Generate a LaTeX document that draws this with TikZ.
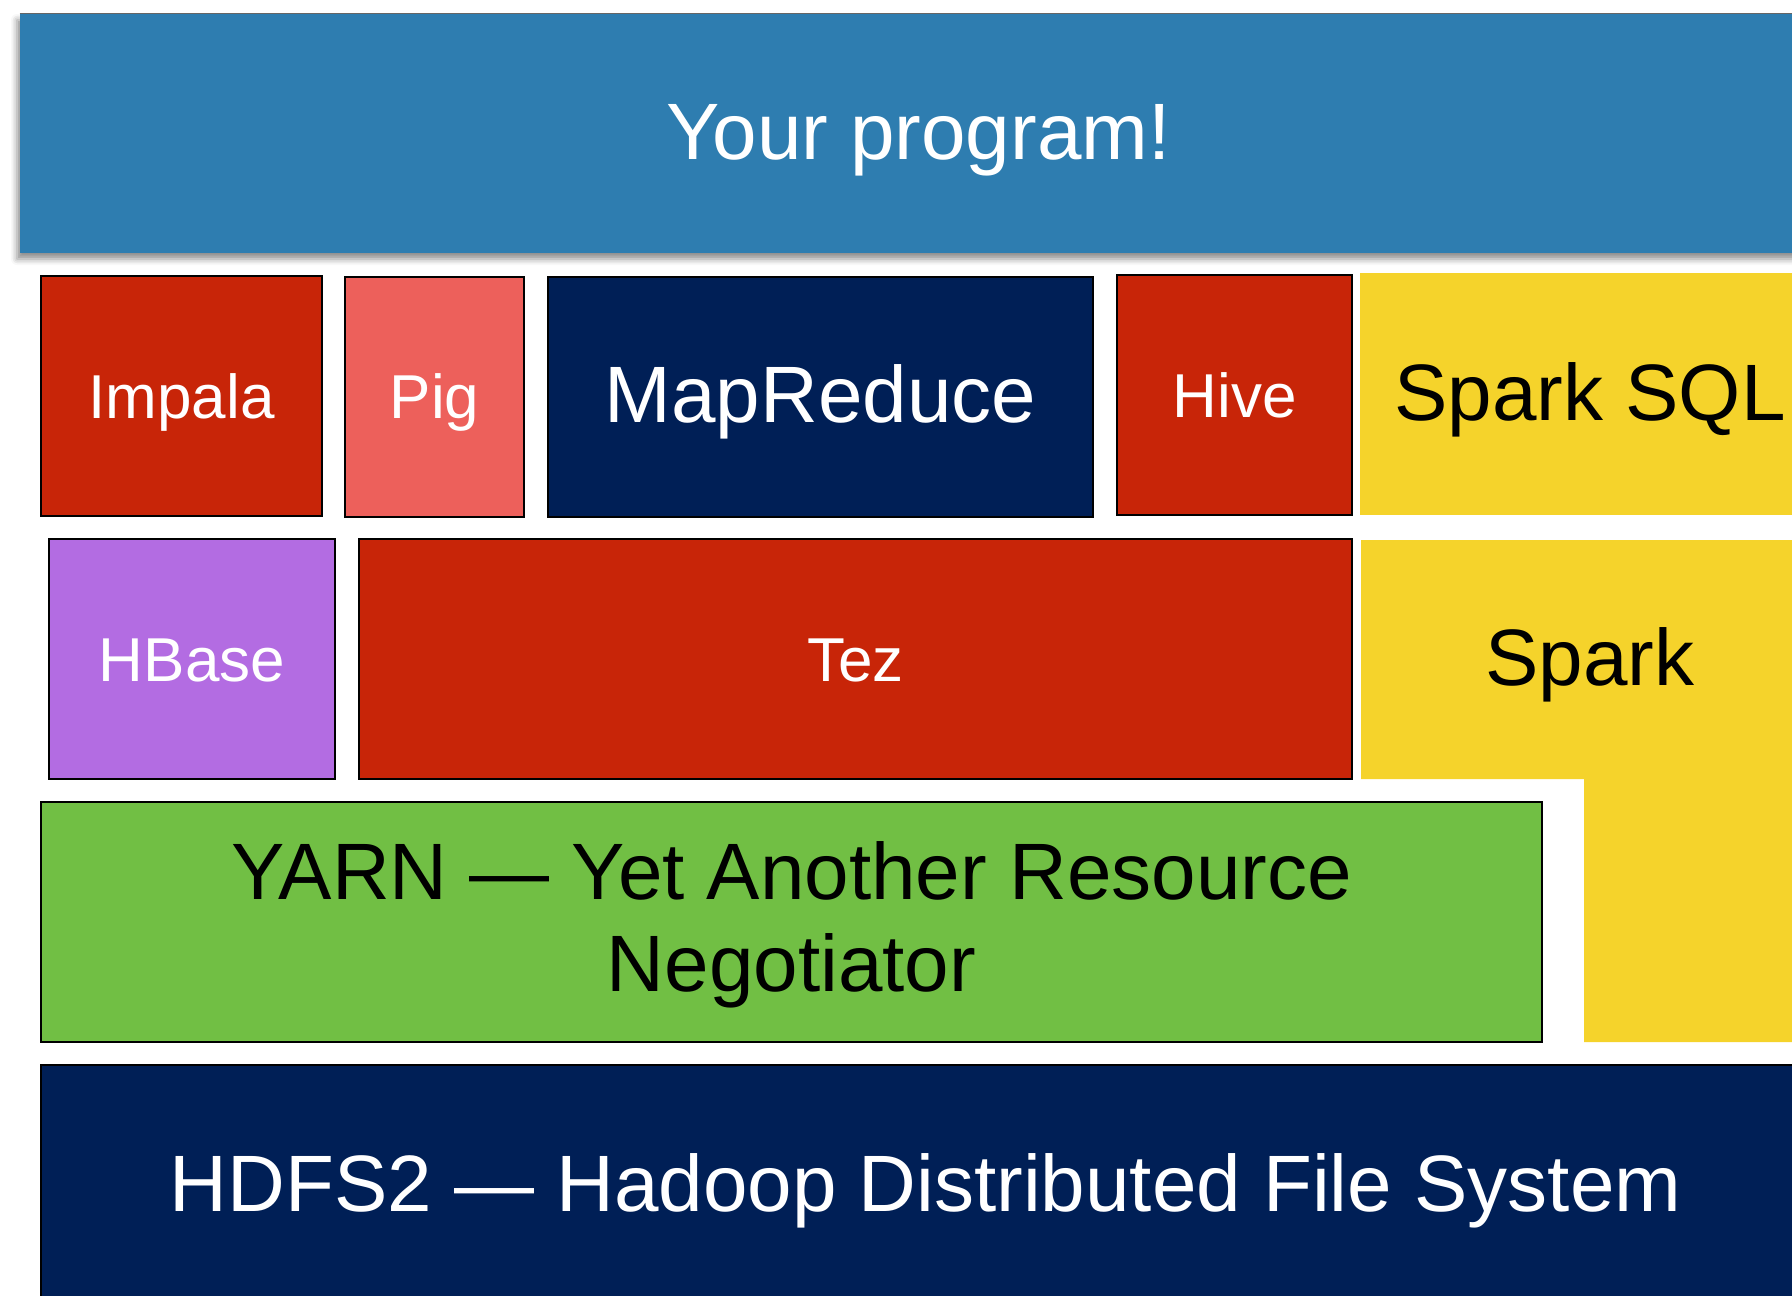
\documentclass[tikz,border=0pt]{standalone}
\usepackage{fontspec}
\setmainfont{Liberation Sans}
\usetikzlibrary{shadows.blur}

\definecolor{progblue}{RGB}{46,125,176}
\definecolor{hadoopred}{RGB}{200,37,8}
\definecolor{pigpink}{RGB}{237,96,91}
\definecolor{navy}{RGB}{0,31,86}
\definecolor{sparkyellow}{RGB}{245,211,43}
\definecolor{hbasepurple}{RGB}{179,108,226}
\definecolor{yarngreen}{RGB}{113,191,68}

\newcommand{\bigtext}{\fontsize{40}{46}\selectfont}
\newcommand{\smalltext}{\fontsize{31}{36}\selectfont}

\begin{document}
\begin{tikzpicture}[x=0.5pt,y=-0.5pt,
    layer/.style={draw=black,line width=1pt,inner sep=0pt,text=white,align=center,minimum height=120pt},
    flat/.style={inner sep=0pt,align=center},
    big/.style={font=\bigtext,text height=28.6pt,text depth=2.5pt},
    small/.style={font=\smalltext,text height=22.2pt,text depth=0pt}]
    \useasboundingbox (0,0) rectangle (1792,1295);
    \clip (0,0) rectangle (1792,1295);

    % top: the user's own code
    \node[flat,fill=progblue,text=white,big,minimum width=898.5pt,minimum height=119.5pt,
          blur shadow={shadow xshift=-1.5pt,shadow yshift=-3pt,shadow blur radius=3pt,shadow opacity=45}]
          (prog) at (918.5,133.5) {Your program!};
    \draw[black!60,line width=0.6pt] (prog.north west) -- (prog.north east);

    % engines
    \node[layer,fill=hadoopred,small,minimum width=140.5pt]  (impala) at (181.5,396)  {Impala};
    \node[layer,fill=pigpink,small,minimum width=89.5pt]     (pig)    at (434.5,396.5) {Pig};
    \node[layer,fill=navy,big,minimum width=272.5pt]         (mr)     at (820.5,396.5) {MapReduce};
    \node[layer,fill=hadoopred,small,minimum width=117.5pt]  (hive)   at (1234.5,395) {Hive};
    \node[flat,fill=sparkyellow,big,minimum width=230pt,minimum height=121pt] (sql) at (1590,394) {Spark SQL};

    % runtimes
    \node[layer,fill=hbasepurple,small,minimum width=143pt]  (hbase)  at (192,659)    {HBase};
    \node[layer,fill=hadoopred,small,minimum width=496.5pt]  (tez)    at (855.5,659)  {Tez};
    \fill[sparkyellow] (1361,540) -- (1820,540) -- (1820,1042) -- (1584,1042)
                       -- (1584,779) -- (1361,779) -- cycle;
    \node[flat,big] (spark) at (1590,659) {Spark};

    % resource manager and storage
    \node[layer,fill=yarngreen,text=black,font=\bigtext,minimum width=750.5pt] (yarn) at (791.5,922)
          {\strut YARN — Yet Another Resource\\Negotiator};
    \node[layer,fill=navy,big,minimum width=884.5pt] (hdfs) at (925.5,1185)
          {HDFS2 — Hadoop Distributed File System};
\end{tikzpicture}
\end{document}
